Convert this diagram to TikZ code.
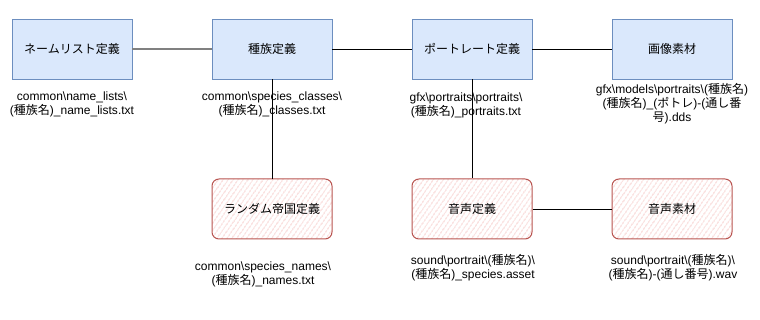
\documentclass[tikz,border=0pt]{standalone}
\usepackage{fontspec}
\setmainfont{Liberation Sans}
\newfontfamily\jp{Noto Sans CJK JP}
\newcommand\J[1]{{\jp #1}}
\usetikzlibrary{patterns.meta}
\definecolor{bluefill}{HTML}{DAE8FC}
\definecolor{bluedraw}{HTML}{6C8EBF}
\definecolor{redfill}{HTML}{F2B0AD}
\definecolor{reddraw}{HTML}{B85450}
\definecolor{grayline}{HTML}{808080}
\tikzset{
  topbox/.style={draw=bluedraw, fill=bluefill, line width=0.9pt, minimum width=120pt, minimum height=60pt, inner sep=0pt, font=\jp\fontsize{12}{14}\selectfont},
  sketchbox/.style={draw=reddraw, line width=1pt, rounded corners=7pt, minimum width=120pt, minimum height=60pt, inner sep=0pt, font=\jp\fontsize{12}{14}\selectfont,
    pattern={Lines[angle=55,distance=4pt,line width=0.7pt]}, pattern color=redfill},
  lbl/.style={align=center, inner sep=0pt, font=\fontsize{12}{14}\selectfont},
  conn/.style={draw=black, line width=0.8pt},
}
\begin{document}
\begin{tikzpicture}[x=1pt,y=-1pt]
\useasboundingbox (0,0) rectangle (760,320);
% top row
\node[topbox] (n1) at (72,49) {ネームリスト定義};
\node[topbox] (n2) at (272,49) {種族定義};
\node[topbox] (n3) at (472,49) {ポートレート定義};
\node[topbox] (n4) at (672,49) {画像素材};
% bottom row
\node[sketchbox] (b1) at (272,209) {ランダム帝国定義};
\node[sketchbox] (b2) at (472,209) {音声定義};
\node[sketchbox] (b3) at (672,209) {音声素材};
% labels
\node[lbl] (l1) at (72,104) {common\textbackslash name\_lists\textbackslash\\(\J{種族名})\_name\_lists.txt};
\node[lbl] (l2) at (272,104) {common\textbackslash species\_classes\textbackslash\\(\J{種族名})\_classes.txt};
\node[lbl] (l3) at (466,105) {gfx\textbackslash portraits\textbackslash portraits\textbackslash\\(\J{種族名})\_portraits.txt};
\node[lbl] (l4) at (672,104) {gfx\textbackslash models\textbackslash portraits\textbackslash(\J{種族名})\\(\J{種族名})\_(\J{ポトレ})-(\J{通し番}\\\J{号}).dds};
\node[lbl] (l5) at (263,274.5) {common\textbackslash species\_names\textbackslash\\(\J{種族名})\_names.txt};
\node[lbl] (l6) at (473,267.5) {sound\textbackslash portrait\textbackslash(\J{種族名})\textbackslash\\(\J{種族名})\_species.asset};
\node[lbl] (l7) at (673,267.5) {sound\textbackslash portrait\textbackslash(\J{種族名})\textbackslash\\(\J{種族名})-(\J{通し番号}).wav};
% connectors
\draw[draw=grayline, line width=2pt] (n1.east) -- (n2.west);
\draw[conn] (n2.east) -- (n3.west);
\draw[conn] (n3.east) -- (n4.west);
\draw[conn] (n2.south) -- (b1.north);
\draw[conn] (n3.south) -- (b2.north);
\draw[conn] (b2.east) -- (b3.west);
\end{tikzpicture}
\end{document}
